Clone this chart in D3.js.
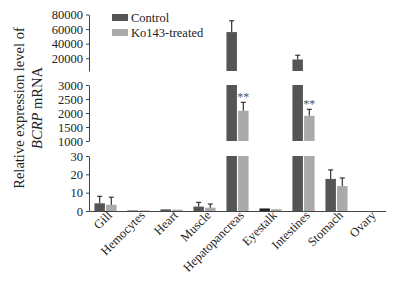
<!DOCTYPE html>
<html>
<head>
<meta charset="utf-8">
<script src="https://cdn.jsdelivr.net/npm/d3@7"></script>
<style>
  body { margin: 0; background: #fff; }
  svg { font-family: "Liberation Serif", "Times New Roman", serif; }
</style>
</head>
<body>
<div id="chart"></div>
<script>
const categories = ["Gill", "Hemocytes", "Heart", "Muscle", "Hepatopancreas", "Eyestalk", "Intestines", "Stomach", "Ovary"];
const control = [4.2, 0.3, 0.9, 2.4, 55900, 1.4, 18300, 17.5, 0];
const controlErr = [3.8, 0, 0, 2.3, 15500, 0, 5800, 4.9, 0];
const treated = [3.4, 0.3, 0.7, 1.8, 2080, 1.0, 1900, 13.6, 0];
const treatedErr = [4.1, 0, 0, 2.0, 300, 0, 230, 4.4, 0];
const stars = ["", "", "", "", "**", "", "**", "", ""];
const series = ["Control", "Ko143-treated"];

const width = 398, height = 282;
const colors = ["#555555", "#aaaaaa"];

const svg = d3.select("#chart").append("svg")
  .attr("width", width)
  .attr("height", height);

const x = d3.scaleBand().domain(categories).range([89, 386]).paddingInner(0.33).paddingOuter(0.165);
const xs = d3.scaleBand().domain(series).range([0, x.bandwidth()]).paddingInner(0.1);

// three broken y segments
const segments = [
  {lo: 0, hi: 30, y: d3.scaleLinear().domain([0, 30]).range([211, 156]), ticks: [0, 10, 20, 30]},
  {lo: 1000, hi: 3000, y: d3.scaleLinear().domain([1000, 3000]).range([141, 85]), ticks: [1000, 1500, 2000, 2500, 3000]},
  {lo: 2500, hi: 80000, y: d3.scaleLinear().domain([2500, 80000]).range([71, 14.5]), ticks: [20000, 40000, 60000, 80000]}
];

segments.forEach(s => {
  const g = svg.append("g")
    .attr("transform", "translate(89,0)")
    .call(d3.axisLeft(s.y).tickValues(s.ticks).tickSize(3).tickSizeOuter(0).tickFormat(d3.format("d")));
  g.select(".domain").attr("stroke", "#444");
  g.selectAll(".tick line").attr("stroke", "#444");
  g.selectAll("text").attr("font-size", 12.5).attr("fill", "#222").attr("font-family", "Liberation Serif");
});

// x axis
svg.append("g")
  .attr("transform", "translate(0,211)")
  .call(d3.axisBottom(x).tickSize(0).tickSizeOuter(0))
  .call(g => g.select(".domain").attr("stroke", "#444").attr("d", "M89.5,0.5H386"))
  .selectAll("text")
  .attr("font-size", 12.5)
  .attr("font-family", "Liberation Serif")
  .attr("fill", "#222")
  .attr("text-anchor", "end")
  .attr("dy", null)
  .attr("transform", "translate(5,3) rotate(-45)");

const rows = categories.map((c, i) => [
  {cat: c, s: 0, v: control[i], e: controlErr[i]},
  {cat: c, s: 1, v: treated[i], e: treatedErr[i]}
]).flat();

// bars, drawn piecewise in each segment
segments.forEach(s => {
  svg.append("g")
    .selectAll("rect")
    .data(rows.filter(d => d.v > s.lo))
    .join("rect")
    .attr("x", d => x(d.cat) + xs(series[d.s]))
    .attr("width", xs.bandwidth())
    .attr("y", d => s.y(Math.min(d.v, s.hi)))
    .attr("height", d => s.y(s.lo) - s.y(Math.min(d.v, s.hi)))
    .attr("fill", d => d.cat === "Eyestalk" && d.s === 0 ? "#222" : colors[d.s]);
});

// error bars (upper whisker only)
const segFor = v => segments.slice().reverse().find(s => v >= s.lo) || segments[0];
const err = svg.append("g").attr("stroke", "#333").attr("stroke-width", 1.2);
rows.filter(d => d.e > 0).forEach(d => {
  const s = segFor(d.v);
  const cx = x(d.cat) + xs(series[d.s]) + xs.bandwidth() / 2;
  err.append("line").attr("x1", cx).attr("x2", cx)
    .attr("y1", s.y(d.v)).attr("y2", s.y(d.v + d.e));
  err.append("line").attr("x1", cx - 2.5).attr("x2", cx + 2.5)
    .attr("y1", s.y(d.v + d.e)).attr("y2", s.y(d.v + d.e));
});

// significance marks
svg.append("g")
  .selectAll("text")
  .data(categories.map((c, i) => ({cat: c, t: stars[i], top: treated[i] + treatedErr[i]})).filter(d => d.t))
  .join("text")
  .attr("x", d => x(d.cat) + xs(series[1]) + xs.bandwidth() / 2)
  .attr("y", d => segFor(d.top).y(d.top) - 1)
  .attr("text-anchor", "middle")
  .attr("font-size", 12)
  .attr("fill", "#555")
  .text(d => d.t);

// legend
const legend = svg.append("g").selectAll("g")
  .data(series)
  .join("g")
  .attr("transform", (d, i) => `translate(112,${14 + i * 15})`);
legend.append("rect").attr("width", 16).attr("height", 7).attr("fill", (d, i) => colors[i]);
legend.append("text").attr("x", 19).attr("y", 8)
  .attr("font-size", 12.5).attr("fill", "#222").text(d => d);

// y label
const yl = svg.append("g").attr("transform", "translate(0,108) rotate(-90)");
yl.append("text").attr("x", 0).attr("y", 24).attr("text-anchor", "middle")
  .attr("font-size", 14.5).attr("fill", "#222").text("Relative expression level of");
const l2 = yl.append("text").attr("x", 0).attr("y", 42).attr("text-anchor", "middle")
  .attr("font-size", 14.5).attr("fill", "#222");
l2.append("tspan").attr("font-style", "italic").text("BCRP");
l2.append("tspan").text(" mRNA");
</script>
</body>
</html>
